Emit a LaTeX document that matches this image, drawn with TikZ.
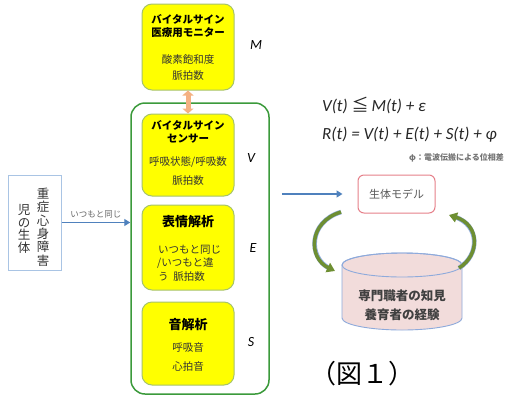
\documentclass[tikz,border=0pt]{standalone}
\usepackage{fontspec}
\setmainfont{Noto Sans CJK JP}
\newfontfamily\eqfont{Carlito}
\usetikzlibrary{arrows.meta}
\definecolor{yfill}{HTML}{FFFF00}
\definecolor{yedge}{HTML}{A6C36B}
\definecolor{gedge}{HTML}{3B9A3B}
\definecolor{peach}{HTML}{F4B183}
\definecolor{lblue}{HTML}{4F81BD}
\definecolor{boxblue}{HTML}{A9C4E4}
\definecolor{pinkedge}{HTML}{E6808A}
\definecolor{cylfill}{HTML}{F2DCDB}
\definecolor{cyledge}{HTML}{8EAADB}
\definecolor{arcgreen}{HTML}{6E8F32}
\definecolor{txt}{HTML}{333333}
\tikzset{
  ybox/.style={draw=yedge, line width=1pt, fill=yfill, rounded corners=10pt, minimum width=92pt, inner sep=0pt},
  intxt/.style={inner sep=0pt, text=txt, font=\fontsize{10.5}{12}\selectfont},
  hdtxt/.style={inner sep=0pt, text=black, font=\fontsize{10.5}{13}\selectfont\bfseries, align=center},
  bigtxt/.style={inner sep=0pt, text=black, font=\fontsize{13}{15}\selectfont\bfseries},
  letter/.style={inner sep=0pt, font=\fontsize{14}{16}\selectfont\eqfont\itshape},
  eq/.style={inner sep=0pt, anchor=west, text=black!85, font=\fontsize{17}{19}\selectfont\eqfont\itshape},
  bluearrow/.style={draw=lblue, line width=1.3pt, -{Triangle[width=7pt,length=6pt]}},
  arcarrow/.style={draw=arcgreen, line width=3.5pt, -{Triangle[width=10pt,length=8pt]}},
  arcedge/.style={draw=cyledge, line width=4.6pt},
}
\begin{document}
\begin{tikzpicture}[x=1pt,y=-1pt]
\useasboundingbox (0,0) rectangle (512,400);
\clip (0,0) rectangle (512,400);
\fill[white] (0,0) rectangle (512,400);

% big green frame
\node[draw=gedge, line width=1.5pt, rounded corners=14pt, minimum width=138pt, minimum height=291pt] (frame) at (200,248.5) {};

% monitor
\node[ybox, minimum height=86pt] (mon) at (188,47) {};
\node[hdtxt] (monT) at (188,26.5) {バイタルサイン\\医療用モニター};
\node[intxt] (monA) at (188,60) {酸素飽和度};
\node[intxt] (monB) at (188,76) {脈拍数};
\node[letter] (Ml) at (256,45) {M};

% V box
\node[ybox, minimum height=82pt] (V) at (188,155) {};
\node[hdtxt] (VT) at (188,131.5) {バイタルサイン\\センサー};
\node[intxt] (VA) at (188,162) {呼吸状態/呼吸数};
\node[intxt] (VB) at (188,181) {脈拍数};
\node[letter] (Vl) at (251,158) {V};

% E box
\node[ybox, minimum height=85pt] (E) at (188,247.5) {};
\node[bigtxt] (ET) at (188,222) {表情解析};
\node[intxt, anchor=west] (EA) at (158,250) {いつもと同じ};
\node[intxt, anchor=west] (EB) at (157,263) {/いつもと違};
\node[intxt, anchor=west] (EC) at (158,277) {う\ \ 脈拍数};
\node[letter] (El) at (253,248) {E};

% S box
\node[ybox, minimum height=83pt] (S) at (188,343.5) {};
\node[bigtxt] (ST) at (188,325) {音解析};
\node[intxt] (SA) at (188,348) {呼吸音};
\node[intxt] (SB) at (188,367) {心拍音};
\node[letter] (Sl) at (251,342) {S};

% orange double arrow
\draw[peach, line width=5pt, {Triangle[width=11pt,length=5pt]}-{Triangle[width=11pt,length=5pt]}] (mon.south) -- (V.north);

% left box
\node[draw=boxblue, line width=1pt, minimum width=53pt, minimum height=95pt] (child) at (34.5,222.5) {};
\node[inner sep=0pt, text=txt, align=center, font=\fontsize{12.5}{13.4}\selectfont] (childR) at (43,227) {重\\症\\心\\身\\障\\害};
\node[inner sep=0pt, text=txt, align=center, font=\fontsize{12.5}{12.8}\selectfont] (childL) at (24,229) {児\\の\\生\\体};

\draw[bluearrow] (child.east) -- (frame.west |- child.east) node[midway, above=4pt, inner sep=0pt, text=black!60, font=\fontsize{8.5}{10}\selectfont] (same) {いつもと同じ};

% equations
\node[eq] (eq1) at (322,105) {V(t) {\fontspec{Noto Sans CJK JP}\upshape ≦}\,M(t) + ε};
\node[eq] (eq2) at (322,135) {R(t) = V(t) + E(t) + S(t) + φ};
\node[inner sep=0pt, anchor=west, text=black!55, font=\fontsize{8}{9}\selectfont\bfseries] (note) at (409,158) {φ：電波伝搬による位相差};

% model box
\node[draw=pinkedge, line width=1pt, fill=white, rounded corners=6pt, minimum width=77pt, minimum height=38pt, text=black!65, font=\fontsize{11}{13}\selectfont] (model) at (396.5,194) {生体モデル};

\draw[bluearrow, shorten <=12pt, shorten >=15pt] (frame.east |- model.west) -- (model.west);

% cylinder
\path[fill=cylfill, draw=cyledge, line width=0.9pt]
  (462,318) arc[start angle=0, end angle=180, x radius=60, y radius=12]
  -- (342,265) arc[start angle=180, end angle=360, x radius=60, y radius=12] -- cycle;
\draw[cyledge, line width=0.9pt] (402,265) ellipse[x radius=60, y radius=12];
\node[inner sep=0pt, text=black!75, font=\fontsize{12.5}{19}\selectfont\bfseries, align=center] (cyl) at (402,305.5) {専門職者の知見\\養育者の経験};

% curved arrows
\coordinate (a1) at (341,212);
\coordinate (a2) at (335,271);
\coordinate (b1) at (459,268);
\coordinate (b2) at (449,215);
\draw[arcedge, shorten >=6pt] (a1) .. controls (308,222) and (308,258) .. (a2);
\draw[arcarrow] (a1) .. controls (308,222) and (308,258) .. (a2);
\draw[arcedge, shorten >=6pt] (b1) .. controls (480,255) and (480,225) .. (b2);
\draw[arcarrow] (b1) .. controls (480,255) and (480,225) .. (b2);

% figure label
\node[inner sep=0pt, text=black, font=\fontsize{26}{28}\selectfont] (fig) at (362,374) {（図１）};
\end{tikzpicture}
\end{document}
